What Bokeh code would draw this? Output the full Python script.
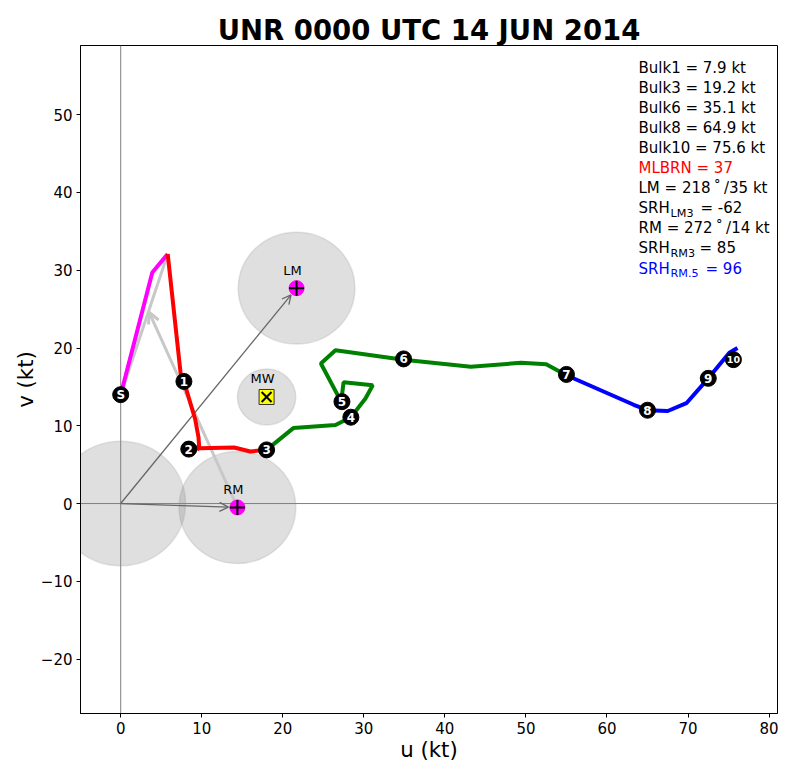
import numpy as np
from bokeh.plotting import figure
from bokeh.models import (Range1d, FixedTicker, CustomJSTickFormatter, Span,
                          Arrow, OpenHead, Label)
from bokeh.core.properties import value
from bokeh.embed import file_html
from bokeh.resources import INLINE

# ---------------- data ----------------
TITLE = "UNR 0000 UTC 14 JUN 2014"
x_ticks = [0, 10, 20, 30, 40, 50, 60, 70, 80]
y_ticks = [-20, -10, 0, 10, 20, 30, 40, 50]

# hodograph segments (u, v in kt)
mag_u = [0.0, 3.9, 5.8]
mag_v = [14.0, 29.7, 32.1]
red_u = [5.8, 7.4, 8.0, 9.2, 9.6, 9.7, 7.8, 9.7, 14.0, 16.0, 18.0]
red_v = [32.1, 16.7, 15.0, 10.8, 8.5, 7.0, 7.7, 7.1, 7.2, 6.7, 6.9]
grn_u = [18.0, 21.3, 26.5, 28.4, 30.2, 31.1, 27.5, 27.2, 24.7, 26.5, 34.9, 43.2, 49.4, 52.5, 55.0]
grn_v = [6.9, 9.7, 10.1, 11.1, 13.5, 15.2, 15.6, 13.1, 18.0, 19.7, 18.5, 17.6, 18.1, 17.9, 16.5]
blu_u = [55.0, 63.3, 65.0, 67.5, 69.8, 72.5, 75.1, 76.1]
blu_v = [16.5, 12.7, 12.0, 11.9, 12.9, 16.1, 19.4, 20.0]

# height markers (km)
hgt_labels = ["S", "1", "2", "3", "4", "5", "6", "7", "8", "9", "10"]
hgt_u = [0.0, 7.8, 8.4, 18.0, 28.4, 27.3, 34.9, 55.0, 65.0, 72.5, 75.6]
hgt_v = [14.0, 15.7, 7.0, 6.9, 11.1, 13.1, 18.6, 16.6, 12.0, 16.1, 18.5]

# storm motions
motion_names = ["LM", "RM", "MW"]
motion_u = [21.7, 14.4, 18.0]
motion_v = [27.7, -0.5, 13.7]
circle_r = [7.2, 7.2, 3.6]
origin_r = 8.0

# light-gray shear line and arrow
shear_u = [0.0, 5.8]
shear_v = [14.0, 32.1]
sr_tip_u, sr_tip_v = 3.5, 24.6

# parameter text
stats_plain = [
    ("Bulk1 = 7.9 kt", "black"),
    ("Bulk3 = 19.2 kt", "black"),
    ("Bulk6 = 35.1 kt", "black"),
    ("Bulk8 = 64.9 kt", "black"),
    ("Bulk10 = 75.6 kt", "black"),
    ("MLBRN = 37", "red"),
    ("LM = 218\u2009\u02da\u2009/35 kt", "black"),
    None,
    ("RM = 272\u2009\u02da\u2009/14 kt", "black"),
    None,
    None,
]
stats_sub = {7: ("SRH", "LM3", "= -62", "black", 62),
             9: ("SRH", "RM3", "= 85", "black", 61),
             10: ("SRH", "RM.5", "= 96", "blue", 67)}

# ---------------- figure ----------------
W, H = 779, 764
p = figure(width=W, height=H, x_range=Range1d(-4.96, 81.04), y_range=Range1d(-27.0, 58.9),
           output_backend="svg", toolbar_location=None,
           min_border_left=80, min_border_right=2, min_border_top=45, min_border_bottom=51,
           title=TITLE)
p.title.align = "center"
p.title.text_font = "DejaVu Sans"
p.title.text_font_style = "bold"
p.title.text_font_size = "27.5px"
p.title.text_color = "black"
p.title.standoff = 0
p.grid.visible = False
p.outline_line_color = "black"
p.outline_line_width = 1
p.background_fill_color = "white"
p.border_fill_color = "white"

for ax in (p.xaxis[0], p.yaxis[0]):
    ax.axis_line_color = "black"
    ax.major_tick_out = 4
    ax.major_tick_in = 0
    ax.minor_tick_line_color = None
    ax.major_label_text_font = "DejaVu Sans"
    ax.major_label_text_font_size = "15px"
    ax.major_label_text_color = "black"
    ax.major_label_standoff = 4
    ax.axis_label_text_font = "DejaVu Sans"
    ax.axis_label_text_font_size = "21.3px"
    ax.axis_label_text_font_style = "normal"
    ax.axis_label_text_color = "black"
    ax.axis_label_standoff = 0
    ax.formatter = CustomJSTickFormatter(
        code="return tick < 0 ? '\\u2212' + Math.abs(tick) : String(tick);")
p.xaxis.ticker = FixedTicker(ticks=x_ticks)
p.yaxis.ticker = FixedTicker(ticks=y_ticks)
p.xaxis.axis_label = "u (kt)"
p.yaxis.axis_label = "v (kt)"

# circles
p.ellipse(x=[0.0] + motion_u, y=[0.0] + motion_v,
          width=[2 * origin_r] + [2 * r for r in circle_r],
          height=[2 * origin_r] + [2 * r for r in circle_r],
          fill_color="gray", fill_alpha=0.25, line_color="gray", line_alpha=0.2,
          line_width=1.5, level="underlay")

# zero lines
for dim in ("width", "height"):
    p.add_layout(Span(location=0, dimension=dim, line_color="#808080", line_width=1,
                      level="underlay"))

# light gray line and arrow
p.line(shear_u, shear_v, line_color="#c8c8c8", line_width=3, level="underlay")
p.add_layout(Arrow(end=OpenHead(size=11, line_color="#c8c8c8", line_width=3),
                   x_start=motion_u[1], y_start=motion_v[1], x_end=sr_tip_u, y_end=sr_tip_v,
                   line_color="#c8c8c8", line_width=3, level="underlay"))

# dark gray arrows from origin to LM and RM (shortened slightly)
shrink = 1.1
for u, v in zip(motion_u[:2], motion_v[:2]):
    mag = np.hypot(u, v)
    f = (mag - shrink) / mag
    p.add_layout(Arrow(end=OpenHead(size=9, line_color="#666666", line_width=1.3),
                       x_start=0, y_start=0, x_end=u * f, y_end=v * f,
                       line_color="#666666", line_width=1.3, level="underlay"))

# hodograph
p.line(mag_u, mag_v, line_color="#ff00ff", line_width=4)
p.line(red_u, red_v, line_color="#ff0000", line_width=4)
p.line(grn_u, grn_v, line_color="#008000", line_width=4)
p.line(blu_u, blu_v, line_color="#0000ff", line_width=4)

# height markers
p.scatter(hgt_u, hgt_v, size=16, fill_color="black", line_color="black")
one = [i for i, t in enumerate(hgt_labels) if len(t) == 1]
two = [i for i, t in enumerate(hgt_labels) if len(t) > 1]
p.text([hgt_u[i] for i in one], [hgt_v[i] for i in one], text=[hgt_labels[i] for i in one],
       text_align="center", text_baseline="middle", text_color="white",
       text_font=value("DejaVu Sans"), text_font_style="bold", text_font_size="12px")
p.text([hgt_u[i] for i in two], [hgt_v[i] for i in two], text=[hgt_labels[i] for i in two],
       text_align="center", text_baseline="middle", text_color="white",
       text_font=value("DejaVu Sans"), text_font_style="bold", text_font_size="9.5px")

# storm motion markers
p.scatter(motion_u[:2], motion_v[:2], marker="circle", size=15,
          fill_color="#ff00ff", line_color="#ff00ff")
p.scatter(motion_u[:2], motion_v[:2], marker="cross", size=15,
          line_color="black", line_width=2)
p.scatter(motion_u[2:], motion_v[2:], marker="square", size=15,
          fill_color="yellow", line_color="#333333", line_width=1)
p.scatter(motion_u[2:], motion_v[2:], marker="x", size=14,
          line_color="black", line_width=2)
p.text(motion_u, motion_v, text=motion_names, text_align="center", text_baseline="middle",
       x_offset=-4, y_offset=-18, text_color="black",
       text_font=value("DejaVu Sans"), text_font_size="13px")

# parameter text block (screen units relative to the plot frame)
x0 = 558
y0 = 646
dy = 20.1
for i in range(11):
    yc = y0 - i * dy
    if stats_plain[i] is not None:
        txt, col = stats_plain[i]
        p.add_layout(Label(x=x0, y=yc, x_units="screen", y_units="screen", text=txt,
                           text_color=col, text_baseline="middle", text_font="DejaVu Sans",
                           text_font_size="15px"))
    else:
        main, sub, rest, col, xr = stats_sub[i]
        p.add_layout(Label(x=x0, y=yc, x_units="screen", y_units="screen", text=main,
                           text_color=col, text_baseline="middle", text_font="DejaVu Sans",
                           text_font_size="15px"))
        p.add_layout(Label(x=x0 + 32, y=yc - 5, x_units="screen", y_units="screen", text=sub,
                           text_color=col, text_baseline="middle", text_font="DejaVu Sans",
                           text_font_size="11.2px"))
        p.add_layout(Label(x=x0 + xr, y=yc, x_units="screen", y_units="screen", text=rest,
                           text_color=col, text_baseline="middle", text_font="DejaVu Sans",
                           text_font_size="15px"))

open("out.html", "w").write(file_html(p, INLINE))
